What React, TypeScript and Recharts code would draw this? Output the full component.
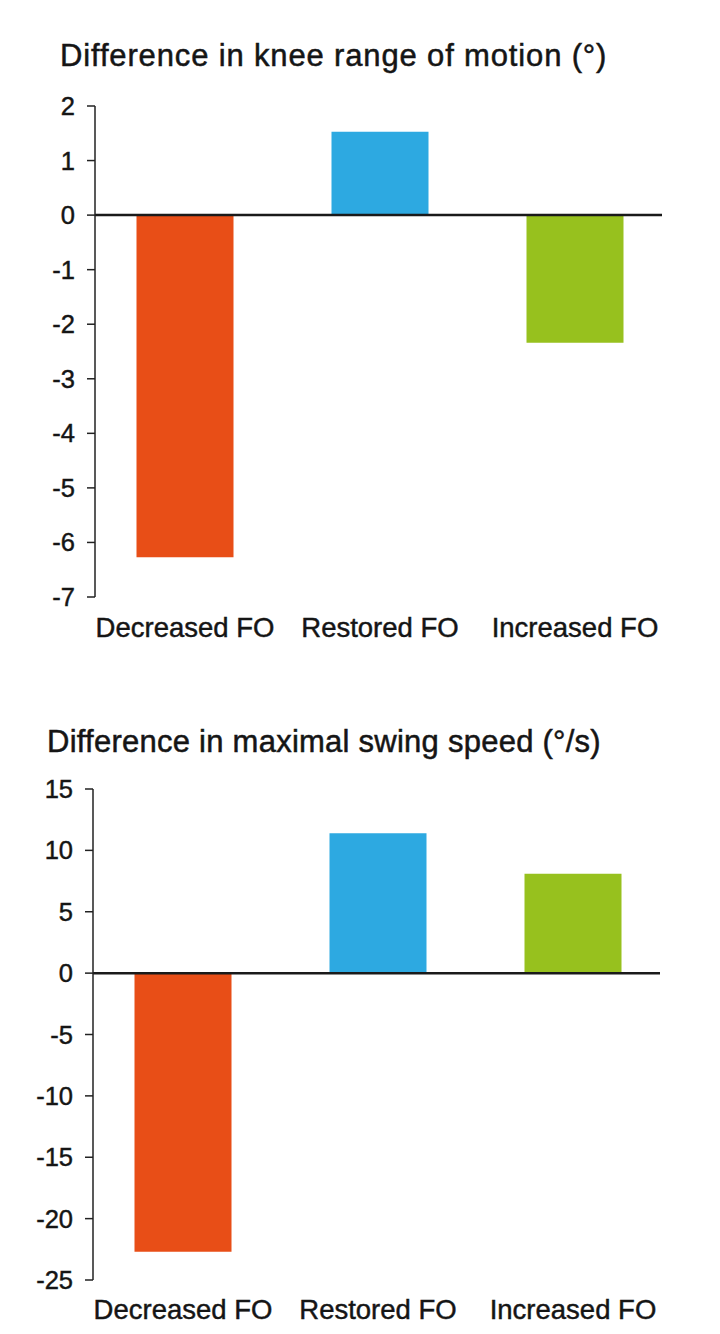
import React from 'react';
import { BarChart, Bar, XAxis, YAxis, Cell, ReferenceLine } from 'recharts';

const categories = ['Decreased FO', 'Restored FO', 'Increased FO'];
const kneeRom = [-6.27, 1.53, -2.34];
const swingSpeed = [-22.7, 11.4, 8.1];
const barColors = ['#E84E17', '#2DA9E1', '#97C11E'];
const romTicks = [2, 1, 0, -1, -2, -3, -4, -5, -6, -7];
const speedTicks = [15, 10, 5, 0, -5, -10, -15, -20, -25];

const romData = categories.map((name, i) => ({ name, value: kneeRom[i] }));
const speedData = categories.map((name, i) => ({ name, value: swingSpeed[i] }));

const font = '"Liberation Sans", Arial, Helvetica, sans-serif';
const ink = '#151515';

const titleStyle: React.CSSProperties = {
	position: 'absolute',
	fontFamily: font,
	fontSize: 31,
	lineHeight: '31px',
	color: ink,
	whiteSpace: 'nowrap',
	WebkitTextStroke: '0.5px #151515',
};

function Panel({
	data,
	ticks,
	top,
	height,
	marginTop,
	axisWidth,
	rightMargin,
	labelGap,
}: {
	data: { name: string; value: number }[];
	ticks: number[];
	top: number;
	height: number;
	marginTop: number;
	axisWidth: number;
	rightMargin: number;
	labelGap: number;
}) {
	return (
		<div style={{ position: 'absolute', left: 0, top }}>
			<BarChart width={720} height={height} data={data} margin={{ top: marginTop, right: rightMargin, left: 0, bottom: 0 }}>
				<XAxis
					dataKey='name'
					axisLine={false}
					tickLine={false}
					tickSize={0}
					tickMargin={labelGap}
					interval={0}
					height={height - marginTop - 491}
					padding={{ left: -7.5, right: -10.5 }}
					tick={{ fontSize: 27.5, fill: ink, fontFamily: font, stroke: ink, strokeWidth: 0.45 }}
				/>
				<YAxis
					width={axisWidth}
					domain={[ticks[ticks.length - 1], ticks[0]]}
					ticks={ticks}
					interval={0}
					tickSize={8}
					tickMargin={12}
					axisLine={{ stroke: '#222', strokeWidth: 1.5 }}
					tickLine={{ stroke: '#222', strokeWidth: 1.5 }}
					tick={{ fontSize: 25.5, fill: ink, fontFamily: font, stroke: ink, strokeWidth: 0.45 }}
				/>
				<Bar dataKey='value' barSize={97} isAnimationActive={false}>
					{data.map((d, i) => (
						<Cell key={d.name} fill={barColors[i]} />
					))}
				</Bar>
				<ReferenceLine y={0} stroke='#1a1a1a' strokeWidth={2.5} />
			</BarChart>
		</div>
	);
}

export default function App() {
	return (
		<div style={{ position: 'absolute', left: 0, top: 0, width: 720, height: 1334, background: '#fff' }}>
			<div style={{ ...titleStyle, left: 60, top: 40, letterSpacing: 0.85 }}>Difference in knee range of motion (°)</div>
			<Panel data={romData} ticks={romTicks} top={0} height={660} marginTop={106} axisWidth={95} rightMargin={58} labelGap={20} />
			<div style={{ ...titleStyle, left: 47, top: 726, letterSpacing: 0.25 }}>Difference in maximal swing speed (°/s)</div>
			<Panel data={speedData} ticks={speedTicks} top={690} height={644} marginTop={99} axisWidth={93} rightMargin={60} labelGap={19} />
		</div>
	);
}
